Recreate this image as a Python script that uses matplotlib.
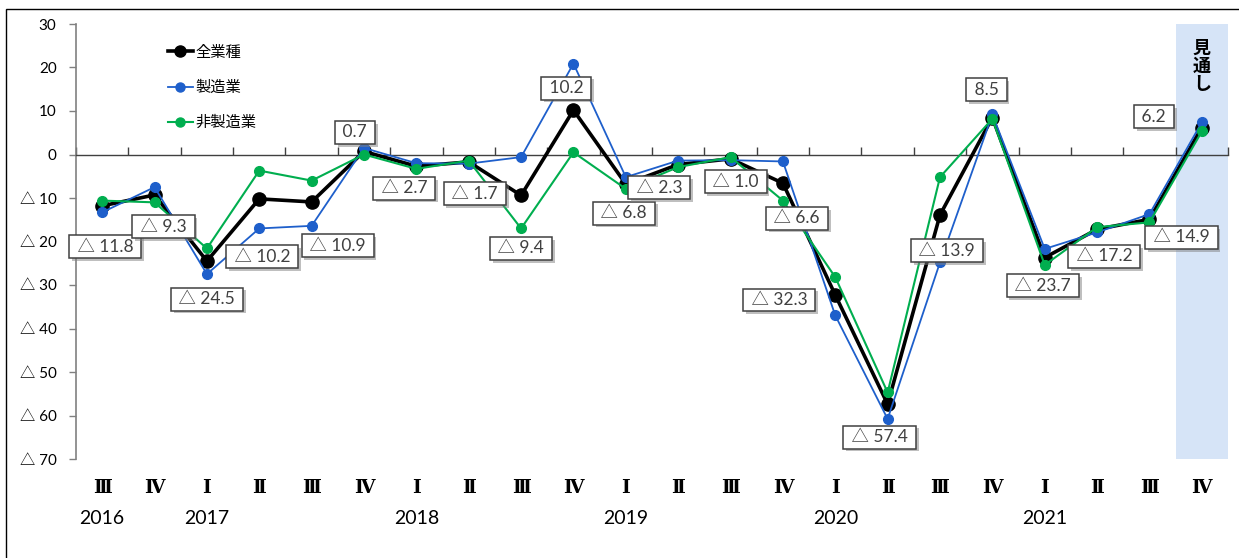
import matplotlib
matplotlib.use("Agg")
import matplotlib.pyplot as plt
import matplotlib.patheffects as pe
from matplotlib.lines import Line2D
from matplotlib.patches import Rectangle
import matplotlib.transforms as mtransforms

# ---- data ----
quarters = ["Ⅲ", "Ⅳ", "Ⅰ", "Ⅱ", "Ⅲ", "Ⅳ", "Ⅰ", "Ⅱ", "Ⅲ", "Ⅳ", "Ⅰ",
            "Ⅱ", "Ⅲ", "Ⅳ", "Ⅰ", "Ⅱ", "Ⅲ", "Ⅳ", "Ⅰ", "Ⅱ", "Ⅲ", "Ⅳ"]
years = ["2016", "", "2017", "", "", "", "2018", "", "", "", "2019",
         "", "", "", "2020", "", "", "", "2021", "", "", ""]
total = [-11.8, -9.3, -24.5, -10.2, -10.9, 0.7, -2.7, -1.7, -9.4, 10.2, -6.8,
         -2.3, -1.0, -6.6, -32.3, -57.4, -13.9, 8.5, -23.7, -17.2, -14.9, 6.2]
manufacturing = [-13.3, -7.5, -27.5, -17.0, -16.4, 1.5, -2.0, -2.1, -0.6, 20.9, -5.2,
                 -1.4, -1.3, -1.6, -37.0, -60.8, -24.8, 9.2, -21.7, -17.9, -13.7, 7.4]
nonmanufacturing = [-10.6, -11.0, -21.6, -3.7, -6.0, 0.0, -3.3, -1.4, -17.0, 0.5, -7.9,
                    -2.9, -0.6, -10.6, -28.2, -54.7, -5.2, 8.2, -25.4, -16.7, -15.6, 5.3]
series_names = ["全業種", "製造業", "非製造業"]
yticks = [30, 20, 10, 0, -10, -20, -30, -40, -50, -60, -70]
forecast_label = "見通し"

# label offsets in pixels (dx right, dy down) from each total point
label_offsets = [(3, 41), (9, 32), (0, 38), (3, 58), (26, 44), (-9, -19), (-12, 22),
                 (6, 32), (0, 53), (-7, -22), (-2, 29), (-19, 23), (5, 23), (14, 35),
                 (-56, 5), (-8, 33), (7, 36), (-6, -28), (-2, 28), (7, 27), (32, 18),
                 (-48, -11)]

NUM_FONT = ["Lato", "Noto Sans CJK JP", "DejaVu Sans"]
CJK_FONT = ["Noto Sans CJK JP", "DejaVu Sans"]

W, H = 1239, 558
fig = plt.figure(figsize=(W / 100, H / 100), dpi=100)
ax = fig.add_axes([76 / W, 1 - 459 / H, (1228 - 76) / W, (459 - 24) / H])

x = list(range(len(quarters)))
BLACK = "#000000"
BLUE = "#1E5FCB"
GREEN = "#00AE4F"

ax.axvspan(len(x) - 1.5, len(x) - 0.5, color="#D6E4F7", zorder=0, lw=0)

ax.plot(x, total, color=BLACK, lw=2.6, marker="o", ms=9.5, zorder=3)
ax.plot(x, manufacturing, color=BLUE, lw=1.3, marker="o", ms=7, zorder=4)
ax.plot(x, nonmanufacturing, color=GREEN, lw=1.5, marker="o", ms=7, zorder=5)

ax.set_xlim(-0.5, len(x) - 0.5)
ax.set_ylim(-70, 30)

# spines
for s in ["top", "right"]:
    ax.spines[s].set_visible(False)
ax.spines["left"].set_color("#808080")
ax.spines["left"].set_linewidth(1.2)
ax.spines["bottom"].set_position(("data", 0))
ax.spines["bottom"].set_color("#404040")
ax.spines["bottom"].set_linewidth(1.0)

ax.set_yticks(yticks)
ax.set_yticklabels([str(v) if v >= 0 else f"△ {abs(v)}" for v in yticks],
                   fontfamily=NUM_FONT, fontsize=11)
ax.tick_params(axis="y", length=5, width=1, color="#808080", pad=9)

ax.set_xticks([i - 0.5 for i in range(len(x) + 1)])
ax.set_xticklabels([])
ax.tick_params(axis="x", direction="in", length=5.5, width=1, color="#404040")

trans = mtransforms.blended_transform_factory(ax.transData, ax.transAxes)
for i, (q, yr) in enumerate(zip(quarters, years)):
    ax.text(i, -0.067, q, transform=trans, ha="center", va="center",
            fontfamily=["DejaVu Serif", "Noto Sans CJK JP"], fontweight="bold",
            fontsize=13.5, color="#000000")
    if yr:
        ax.text(i, -0.137, yr, transform=trans, ha="center", va="center",
                fontfamily=NUM_FONT, fontsize=14, color="#000000")

# data labels
for i, (v, (dx, dy)) in enumerate(zip(total, label_offsets)):
    txt = f"{v:.1f}" if v >= 0 else f"△ {abs(v):.1f}"
    ann = ax.annotate(" " + txt + " ", xy=(i, v), xytext=(dx, -dy),
                      textcoords="offset pixels", ha="center", va="center",
                      fontfamily=NUM_FONT, fontsize=12.5, color="#404040",
                      bbox=dict(boxstyle="square,pad=0.2", fc="white",
                                ec="#404040", lw=1.1),
                      zorder=6)
    ann.get_bbox_patch().set_path_effects(
        [pe.SimplePatchShadow(offset=(2, -2), shadow_rgbFace="#808080", alpha=0.5),
         pe.Normal()])

# forecast label
ax.text(len(x) - 1, 26.5, "見\n通\nし", ha="center", va="top",
        fontfamily=CJK_FONT, fontweight="bold", fontsize=13,
        linespacing=0.92, color="#000000", zorder=6)

# legend
handles = [Line2D([], [], color=BLACK, lw=2.6, marker="o", ms=8),
           Line2D([], [], color=BLUE, lw=1.3, marker="o", ms=6.5),
           Line2D([], [], color=GREEN, lw=1.5, marker="o", ms=6.5)]
ax.legend(handles, series_names, loc="upper left", bbox_to_anchor=(0.08, 0.955),
          frameon=False, prop={"family": CJK_FONT, "size": 11},
          labelspacing=1.2, handlelength=1.6, handletextpad=0.2,
          borderpad=0, borderaxespad=0)

# outer frame
fig.patches.append(Rectangle((6, -10), W + 10, H - 9 + 10 - 0, transform=None,
                             fill=False, ec="#000000", lw=1.0))

fig.savefig("out.png", dpi=100)
